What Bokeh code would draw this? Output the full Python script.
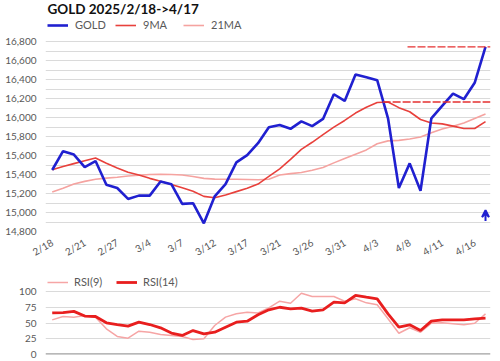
import math
from bokeh.plotting import figure
from bokeh.models import (FixedTicker, Legend, LegendItem, Label, Arrow, VeeHead,
                          Range1d, NumeralTickFormatter, Span)
from bokeh.layouts import column
from bokeh.embed import file_html
from bokeh.resources import INLINE

# ---------------- data ----------------
dates = ["2/18", "2/19", "2/20", "2/21", "2/25", "2/26", "2/27", "2/28", "3/3", "3/4",
         "3/5", "3/6", "3/7", "3/10", "3/11", "3/12", "3/13", "3/14", "3/17", "3/18",
         "3/19", "3/21", "3/24", "3/25", "3/26", "3/27", "3/28", "3/31", "4/1", "4/2",
         "4/3", "4/4", "4/7", "4/8", "4/9", "4/10", "4/11", "4/14", "4/15", "4/16", "4/17"]

gold = [15448, 15646, 15611, 15479, 15542, 15292, 15258, 15143, 15178, 15178,
        15327, 15299, 15091, 15098, 14886, 15171, 15299, 15528, 15604, 15730,
        15899, 15923, 15882, 15961, 15910, 15986, 16246, 16176, 16454, 16426,
        16394, 15993, 15258, 15518, 15230, 15993, 16124, 16253, 16194, 16367, 16745]

ma9 = [15450, 15485, 15515, 15545, 15575, 15520, 15470, 15425, 15395, 15360,
       15330, 15295, 15260, 15225, 15170, 15155, 15185, 15220, 15255, 15300,
       15380, 15460, 15560, 15665, 15740, 15820, 15900, 15970, 16048, 16110,
       16160, 16165, 16105, 16062, 15980, 15944, 15934, 15910, 15885, 15885, 15958]

ma21 = [15216, 15255, 15300, 15328, 15350, 15362, 15372, 15385, 15392, 15400,
        15403, 15400, 15395, 15380, 15360, 15352, 15350, 15350, 15348, 15345,
        15350, 15396, 15410, 15421, 15445, 15475, 15523, 15570, 15615, 15660,
        15725, 15755, 15760, 15775, 15795, 15840, 15880, 15910, 15944, 15990, 16038]

rsi9 = [55, 60.3, 59.3, 62, 59.3, 40.7, 28.6, 25.9, 37, 35.4,
        31.7, 30.2, 28.6, 23.8, 24.9, 46, 59.3, 64.6, 67.1, 66,
        74, 84.6, 81.4, 97.3, 92, 92, 92, 84.6, 88.4, 82,
        78.9, 56.7, 33.8, 42.4, 35.4, 49.7, 50.3, 48.7, 47.1, 49.7, 64.6]

rsi14 = [66, 66.5, 68.5, 61, 60.3, 50.3, 47.6, 45, 51.3, 47.6,
         42.3, 34, 30.2, 38, 32.8, 35.4, 43.4, 51.3, 52.9, 63,
         71, 75, 72.5, 73.5, 68.8, 71, 83, 82, 93.7, 91,
         88.4, 64.6, 43.4, 47.1, 38.1, 52.9, 55, 55, 55, 56.7, 57.7]

price_label_ticks = list(range(14800, 16801, 200))
price_grid_ticks = list(range(14800, 16801, 100))
rsi_ticks = [0, 25, 50, 75, 100]
date_tick_idx = list(range(0, 40, 3))

# annotation: dashed reference levels (level, start index) and arrow
ref_levels = [max(gold), max(ma9)]
ref_start_idx = [32.8, 30.5]
arrow_y = [14910, 15025]

x = list(range(len(gold)))
XR = (-0.62, 40.46)

FONT = "Lato"
TXT = "#595959"

# ---------------- main chart ----------------
H1, B1 = 265, 31
p1 = figure(width=500, height=H1, title=None, output_backend="svg", toolbar_location=None,
            x_range=Range1d(*XR), y_range=Range1d(14800, 17234),
            min_border_left=45, min_border_right=10, min_border_top=0, min_border_bottom=B1)
p1.outline_line_alpha = 0

r21 = p1.line(x, ma21, line_color="#f5a3a0", line_width=1.6)
r9 = p1.line(x, ma9, line_color="#e8413c", line_width=1.6)
rg = p1.line(x, gold, line_color="#2020d0", line_width=2.6)

for lvl, xs in zip(ref_levels, ref_start_idx):
    p1.segment(x0=xs, y0=lvl, x1=XR[1], y1=lvl, line_color="#e53030",
               line_width=1.4, line_dash="8 2")

p1.add_layout(Arrow(end=VeeHead(size=7, line_color="#2020d0", line_width=2, fill_alpha=0),
                    x_start=x[-1], y_start=arrow_y[0], x_end=x[-1], y_end=arrow_y[1],
                    line_color="#2020d0", line_width=2))

p1.xgrid.visible = False
p1.ygrid.ticker = FixedTicker(ticks=price_grid_ticks)
p1.ygrid.grid_line_color = "#dadada"
p1.ygrid.grid_line_width = 1.2

xa = p1.xaxis[0]
xa.ticker = FixedTicker(ticks=date_tick_idx)
xa.major_label_overrides = {i: dates[i] for i in date_tick_idx}
xa.major_label_orientation = math.pi / 6
xa.axis_line_alpha = 0
xa.major_tick_line_alpha = 0
xa.minor_tick_line_alpha = 0
xa.major_label_text_font = FONT
xa.major_label_text_font_size = "10px"
xa.major_label_text_color = TXT
xa.major_label_standoff = 4

ya = p1.yaxis[0]
ya.ticker = FixedTicker(ticks=price_label_ticks)
ya.formatter = NumeralTickFormatter(format="0,0")
ya.axis_line_alpha = 0
ya.major_tick_line_alpha = 0
ya.minor_tick_line_alpha = 0
ya.major_tick_out = 0
ya.major_label_text_font = FONT
ya.major_label_text_font_size = "10px"
ya.major_label_text_color = TXT
ya.major_label_standoff = 9

frame_h1 = H1 - B1
p1.add_layout(Label(text="GOLD 2025/2/18->4/17", x=2, y=frame_h1 - 3, x_units="screen",
                    y_units="screen", text_baseline="top", text_font=FONT,
                    text_font_size="13.5px", text_font_style="bold", text_color="#111111"))

leg1 = Legend(items=[LegendItem(label="GOLD", renderers=[rg]),
                     LegendItem(label="9MA", renderers=[r9]),
                     LegendItem(label="21MA", renderers=[r21])],
              orientation="horizontal", location=(0, frame_h1 - 36),
              label_text_font=FONT, label_text_font_size="11px", label_text_color=TXT,
              glyph_width=21, glyph_height=10, label_height=10, label_standoff=7,
              label_width=40, spacing=0, padding=2, margin=0,
              border_line_alpha=0, background_fill_alpha=0)
p1.add_layout(leg1)

# ---------------- RSI chart ----------------
H2, B2 = 96, 7
p2 = figure(width=500, height=H2, title=None, output_backend="svg", toolbar_location=None,
            x_range=p1.x_range, y_range=Range1d(0, 141.3),
            min_border_left=45, min_border_right=10, min_border_top=0, min_border_bottom=B2)
p2.outline_line_alpha = 0
p2.xaxis.visible = False
p2.xgrid.visible = False
p2.ygrid.ticker = FixedTicker(ticks=rsi_ticks)
p2.ygrid.grid_line_color = "#dadada"
p2.ygrid.grid_line_width = 1.2
p2.add_layout(Span(location=rsi_ticks[0], dimension="width", line_color="#a0a0a0", line_width=2.5))

rr9 = p2.line(x, rsi9, line_color="#f6a5a5", line_width=1.5)
rr14 = p2.line(x, rsi14, line_color="#e81e1e", line_width=2.8)

ya2 = p2.yaxis[0]
ya2.ticker = FixedTicker(ticks=rsi_ticks)
ya2.axis_line_alpha = 0
ya2.major_tick_line_alpha = 0
ya2.minor_tick_line_alpha = 0
ya2.major_tick_out = 0
ya2.major_label_text_font = FONT
ya2.major_label_text_font_size = "10px"
ya2.major_label_text_color = TXT
ya2.major_label_standoff = 9

frame_h2 = H2 - B2
leg2 = Legend(items=[LegendItem(label="RSI(9)", renderers=[rr9]),
                     LegendItem(label="RSI(14)", renderers=[rr14])],
              orientation="horizontal", location=(0, frame_h2 - 25),
              label_text_font=FONT, label_text_font_size="11px", label_text_color=TXT,
              glyph_width=21, glyph_height=10, label_height=10, label_standoff=6,
              label_width=40, spacing=2, padding=2, margin=0,
              border_line_alpha=0, background_fill_alpha=0)
p2.add_layout(leg2)

layout = column(p1, p2, spacing=0)
open("out.html", "w").write(file_html(layout, INLINE))
